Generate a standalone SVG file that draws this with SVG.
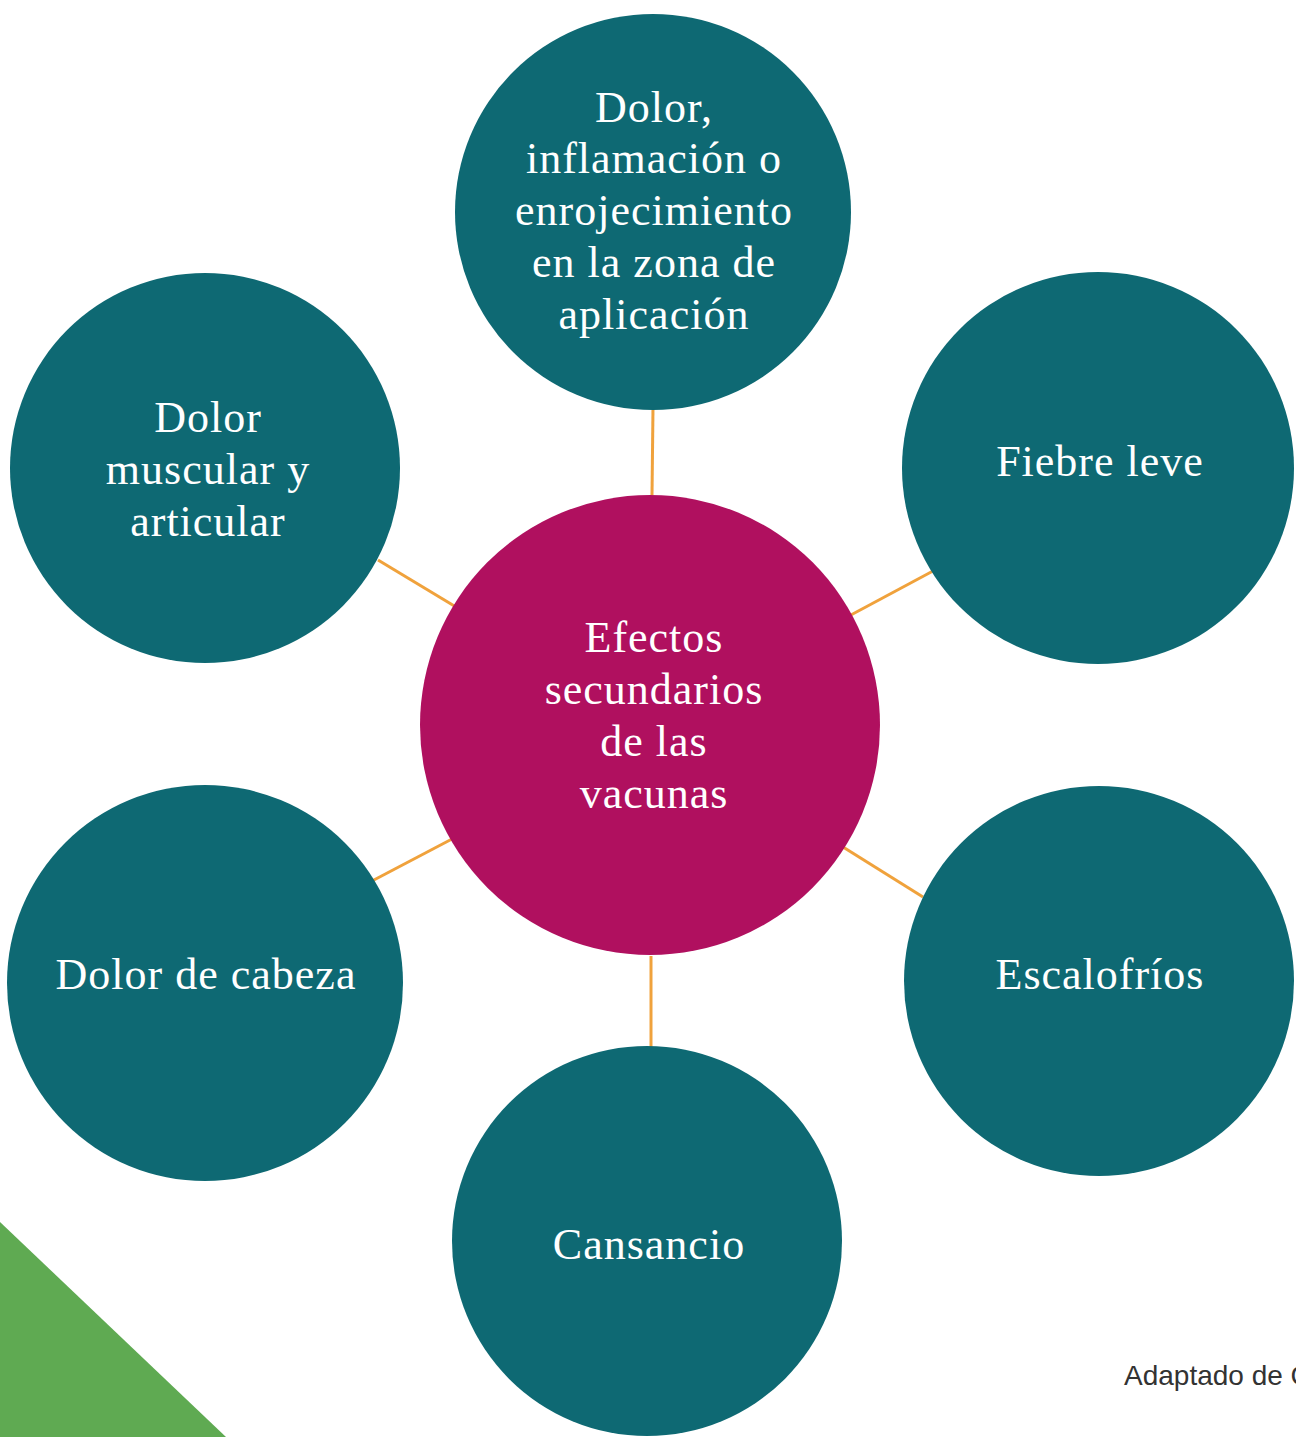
<svg xmlns="http://www.w3.org/2000/svg" width="1296" height="1437" viewBox="0 0 1296 1437">
<style>
.n{fill:#0E6973}
.c{fill:#B0105F}
.t{font-family:"Liberation Serif",serif;font-size:44px;fill:#fff;text-anchor:middle;letter-spacing:1px}
.e{stroke:#F0A23C;stroke-width:3;fill:none}
.f{font-family:"Liberation Sans",sans-serif;font-size:28px;fill:#333}
</style>
<rect width="1296" height="1437" fill="#fff"/>
<polygon points="0,1222 226,1437 0,1437" fill="#5FAA52"/>
<g id="connectors">
<line class="e" x1="653" y1="408" x2="652" y2="495"/>
<line class="e" x1="378" y1="560" x2="456" y2="607"/>
<line class="e" x1="849" y1="616" x2="933" y2="571"/>
<line class="e" x1="372" y1="881" x2="452" y2="839"/>
<line class="e" x1="843" y1="847" x2="923" y2="897"/>
<line class="e" x1="651" y1="956" x2="651" y2="1048"/>
</g>
<g id="center"><circle class="c" cx="650" cy="725" r="230"/>
<text class="t"><tspan x="654" y="652">Efectos</tspan><tspan x="654" y="704">secundarios</tspan><tspan x="654" y="756">de las</tspan><tspan x="654" y="808">vacunas</tspan></text></g>
<g id="top"><circle class="n" cx="653" cy="212" r="198"/>
<text class="t"><tspan x="654" y="122">Dolor,</tspan><tspan x="654" y="173">inflamación o</tspan><tspan x="654" y="225">enrojecimiento</tspan><tspan x="654" y="277">en la zona de</tspan><tspan x="654" y="329">aplicación</tspan></text></g>
<g id="upperleft"><circle class="n" cx="205" cy="468" r="195"/>
<text class="t"><tspan x="208" y="432">Dolor</tspan><tspan x="208" y="484">muscular y</tspan><tspan x="208" y="536">articular</tspan></text></g>
<g id="upperright"><circle class="n" cx="1098" cy="468" r="196"/>
<text class="t" x="1100" y="476">Fiebre leve</text></g>
<g id="lowerleft"><circle class="n" cx="205" cy="983" r="198"/>
<text class="t" x="206" y="989">Dolor de cabeza</text></g>
<g id="lowerright"><circle class="n" cx="1099" cy="981" r="195"/>
<text class="t" x="1100" y="989">Escalofríos</text></g>
<g id="bottom"><circle class="n" cx="647" cy="1241" r="195"/>
<text class="t" x="649" y="1259">Cansancio</text></g>
<text class="f" x="1124" y="1385">Adaptado de C</text>
</svg>
